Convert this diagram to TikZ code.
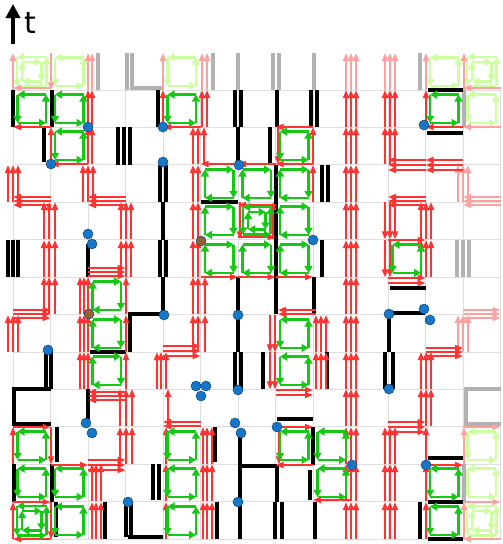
\documentclass[tikz,border=0pt]{standalone}
\usepackage{fontspec}
\setmainfont{DejaVu Sans}
\usetikzlibrary{arrows.meta}
\definecolor{cr}{RGB}{255,50,50}
\definecolor{crf}{RGB}{255,160,160}
\definecolor{cg}{RGB}{20,200,20}
\definecolor{cgf}{RGB}{205,255,160}
\definecolor{ck}{RGB}{0,0,0}
\definecolor{ckf}{RGB}{178,178,178}
\definecolor{cb}{RGB}{22,118,200}
\definecolor{cbo}{RGB}{15,70,120}
\definecolor{cbr}{RGB}{150,95,50}
\definecolor{cgl}{RGB}{222,222,222}
\tikzset{
 ra/.style={draw=cr,line width=1.8pt,-{Triangle[length=8pt,width=6pt]}},
 rf/.style={ra,draw=crf},
 ga/.style={draw=cg,line width=2.6pt,-{Triangle[length=7pt,width=8pt]}},
 gf/.style={ga,draw=cgf},
 bk/.style={draw=ck,line width=4.4pt},
 bk3/.style={draw=ck,line width=3.2pt},
 bkf/.style={draw=ckf,line width=4.4pt},
 bkf3/.style={draw=ckf,line width=3.2pt},
 bdot/.style={fill=cb,draw=cbo,line width=0.5pt},
 brdot/.style={fill=cbr,draw=cbo,line width=0.5pt},
 gl/.style={draw=cgl,line width=0.8pt},
}
\newcommand\RU[3][ra]{\foreach \xx in {#2}{\draw[#1] (\xx,{#3+37.4}) -- (\xx,#3);}}
\newcommand\RD[3][ra]{\foreach \xx in {#2}{\draw[#1] (\xx,#3) -- (\xx,{#3+37.4});}}
\newcommand\RL[3][ra]{\foreach \yy in {#2}{\draw[#1] ({#3+37.5},\yy) -- (#3,\yy);}}
\newcommand\RR[3][ra]{\foreach \yy in {#2}{\draw[#1] (#3,\yy) -- ({#3+37.5},\yy);}}
\newcommand\Gccw[4][ga]{%
 \draw[#1] ({#2+37.5-#4},{#3+#4}) -- ({#2+#4},{#3+#4});
 \draw[#1] ({#2+#4},{#3+#4}) -- ({#2+#4},{#3+37.4-#4});
 \draw[#1] ({#2+#4},{#3+37.4-#4}) -- ({#2+37.5-#4},{#3+37.4-#4});
 \draw[#1] ({#2+37.5-#4},{#3+37.4-#4}) -- ({#2+37.5-#4},{#3+#4});}
\newcommand\Gcw[4][ga]{%
 \draw[#1] ({#2+#4},{#3+#4}) -- ({#2+37.5-#4},{#3+#4});
 \draw[#1] ({#2+37.5-#4},{#3+#4}) -- ({#2+37.5-#4},{#3+37.4-#4});
 \draw[#1] ({#2+37.5-#4},{#3+37.4-#4}) -- ({#2+#4},{#3+37.4-#4});
 \draw[#1] ({#2+#4},{#3+37.4-#4}) -- ({#2+#4},{#3+#4});}
\newcommand\BV[4][bk]{\foreach \xx in {#2}{\draw[#1] (\xx,#3) -- (\xx,#4);}}
\newcommand\BH[4][bk]{\draw[#1] (#2,#4) -- (#3,#4);}
\def\gi{4.5}
\begin{document}
\begin{tikzpicture}[x=1pt,y=-1pt]
\useasboundingbox (0,0) rectangle (503,544);
\begin{scope}
\clip (0,0) rectangle (503,544);
% grid
\foreach \i in {0,...,13} \draw[gl] ({13+37.5*\i},90) -- ({13+37.5*\i},539);
\foreach \j in {0,...,12} \draw[gl] (13,{90+37.42*\j}) -- (501,{90+37.42*\j});
% time arrow
\draw[line width=4.5pt,-{Triangle[length=14pt,width=14pt]}] (13,44) -- (13,4);
\node[anchor=base west,inner sep=0,font=\fontsize{30}{30}\selectfont] (tlab) at (24,33) {t};

% ---------- faded copies (top row, right column)
\Gccw[gf]{13}{53}{4} \Gcw[gf]{13}{53}{9}
\Gccw[gf]{50.5}{53}{\gi} \Gccw[gf]{163}{53}{\gi} \Gccw[gf]{425.5}{53}{\gi}
\Gccw[gf]{463}{53}{4} \Gcw[gf]{463}{53}{9}
\Gccw[gf]{463}{90}{\gi} \Gccw[gf]{463}{427}{\gi} \Gccw[gf]{463}{464}{\gi}
\Gccw[gf]{463}{502}{4} \Gcw[gf]{463}{502}{9}
\RU[rf]{13}{53} \RD[rf]{51}{53} \RL[rf]{88}{13}
\RU[rf]{88,92}{53} \BV[bkf]{98}{53}{90}
\BV[bkf3]{127,132}{53}{90} \BH[bkf]{132}{163}{88}
\RU[rf]{163}{53} \RU[rf]{202,207}{53}
\BV[bkf]{213}{53}{90} \BV[bkf]{238}{53}{90} \BV[bkf3]{273,279}{53}{90} \BV[bkf]{314}{53}{90}
\RU[rf]{346,351,356}{53} \RU[rf]{385,390,395}{53}
\BV[bkf]{420}{53}{90} \RU[rf]{426}{53} \RU[rf]{464}{53} \RL[rf]{88}{463}
\BV[bkf]{464}{90}{127} \RL[rf]{127}{463}
\RU[rf]{458,463,468}{165} \RL[rf]{197,201,205}{463}
\BV[bkf3]{457,463,469}{240}{277}
\RR[rf]{310,314,318}{463} \RU[rf]{458,463,468}{315}
\draw[bkf] (501,389) -- (466,389) -- (466,424) -- (501,424);
\RR[rf]{427}{463} \RU[rf]{464}{427}
\BV[bkf]{464}{464}{502} \RR[rf]{502}{463}
\RL[rf]{539}{463} \RU[rf]{464}{502}

% ---------- black bars
\BV{13}{90}{127} \BV{52}{90}{127} \BV{44}{127}{162}
\BV[bk3]{8,13,18}{240}{277}
\BV[bk3]{46,51}{350}{389}
\draw[bk] (51,389) -- (14,389) -- (14,424) -- (51,424);
\BV{14}{464}{502} \BV{52}{464}{502} \BV{57}{427}{462} \BV{56}{502}{537}
\BV{88}{244}{277} \BV{88}{389}{423}
\BV[bk3]{118,124,130}{127}{165}
\BH{90}{126}{352}
\BV{105}{502}{539}
\BV{158}{90}{127}
\BV[bk3]{160,166}{165}{202} \BV{163}{202}{240} \BV[bk3]{160,166}{240}{277} \BV{163}{277}{314}
\draw[bk] (163,314) -- (130,314) -- (130,352);
\BV[bk3]{153,159}{464}{500}
\BV[bk3]{126,131}{502}{537} \BH{128}{163}{537}
\BV{215}{427}{462} \BV{217}{502}{539}
\BV[bk3]{235,241}{90}{127} \BV{238}{127}{165} \BH{201}{238}{202}
\BV{238}{277}{352} \BV[bk3]{235,241}{352}{389}
\BV{240}{437}{539} \BH{240}{277}{466}
\BV{277}{90}{127} \BV{270}{127}{165}
\BV{276}{165}{314}
\BV{263}{352}{389} \BH{277}{313}{419}
\BV{277}{466}{502} \BV[bk3]{275,282}{502}{539}
\BV[bk3]{311,317}{90}{127} \BV{314}{277}{314}
\BV{313}{427}{465} \BV{310}{470}{500} \BV{315}{502}{539}
\BV[bk3]{322,328}{165}{202} \BV{322}{240}{277} \BV{327}{352}{389}
\BH{390}{426}{288}
\draw[bk] (425,313) -- (389,313) -- (389,352);
\BV[bk3]{385,393}{352}{389}
\BH{428}{463}{90} \BH{427}{463}{133} \BH{428}{463}{458} \BH{428}{463}{502} \BH{428}{463}{539}
\BV{420}{502}{539}

% ---------- red worldlines
\foreach \r in {90,127,165,202,240,277,315,352,389,427,464,502} {\RU{346,351,356}{\r}}
\foreach \r in {90,127,427,464,502} {\RU{385,390,395}{\r}}
\foreach \r in {202,240,352,389} {\RU{421,426,431}{\r}}
\foreach \r in {90,427,464,502} {\RU{426}{\r}}
\RU{8,13,18}{165} \RU{8,13,18}{315}
\RU{13}{427} \RU{13}{502}
\RU{44,49,55}{202} \RU{44,49,55}{240} \RU{44,49,55}{277}
\RU{51}{127} \RD{51}{427} \RD{51}{502}
\RU{88,92}{90} \RU{88,92}{127} \RU{83,88,93}{165}
\foreach \r in {277,315,352} {\RU{80,84,88}{\r}}
\RU{92,96,101}{464} \RU{92,96,101}{502}
\RU{121,126,131}{202} \RU{121,126,131}{240} \RU{120,126,132}{389} \RU{120,126,132}{427}
\foreach \r in {277,315,352} {\RU{126}{\r}}
\RU{163}{90} \RU{157,161,166}{352} \RU{168}{389}
\foreach \r in {427,464,502} {\RU{166}{\r}}
\RU{202,207}{90} \RU{193,198,204}{127}
\foreach \r in {165,202,240} {\RU{193,198}{\r}}
\RU{193,198,205}{277} \RU{193,198,205}{315}
\foreach \r in {427,464,502} {\RU{203,207,212}{\r}}
\RD{278}{127} \RU{313}{127} \RU{313}{165}
\RD{240}{202} \RU{273}{202}
\RD{270,275}{315} \RD{270,275}{352}
\RU{316,321,326}{315} \RU{316,321,326}{352}
\RD{279}{427}
\RD{385,390,395}{202} \RD{385,390}{240}
% horizontals
\RL{127}{13} \RL{127}{163} \RL{127}{275.5} \RL{127}{425.5}
\RL{164}{50.5} \RL{164}{200.5} \RL{164}{238} \RL{164}{275.5}
\RL{160,165,170}{388} \RL{160,165,170}{425.5}
\RL{197,201,205}{13} \RL{197,201,205}{88} \RL{197,201,205}{388}
\RL{205}{238} \RR{237}{238} \RR{240}{388}
\RR{268,272,276}{88}
\RR{277}{200.5} \RR{277}{238} \RR{277}{275.5}
\RR{278,283}{388}
\RR{310,314,318}{13}
\RL{310,314}{278}
\RR{346,351,356}{163}
\RR{348,352,356}{425.5}
\RR{390,395}{275.5}
\RL{392,396,400}{88}
\RL{422,426}{163}
\RR{422,427,432}{388}
\RR{427}{13} \RR{427}{275.5}
\RR{465}{50.5} \RR{460,465,470}{88}
\RL{465}{275.5} \RR{465}{425.5}
\RL{500}{313}
\RR{502}{13} \RL{539}{13}

% ---------- green plaquettes
\Gccw{13}{90}{\gi} \Gccw{50.5}{90}{\gi} \Gccw{50.5}{127}{\gi} \Gccw{163}{90}{\gi}
\Gccw{275.5}{127}{\gi} \Gccw{425.5}{90}{\gi}
\foreach \cx in {200.5,275.5} \foreach \cy in {165,202,240} {\Gcw{\cx}{\cy}{\gi}}
\Gcw{238}{165}{\gi} \Gcw{238}{240}{\gi}
\Gccw{238}{202}{5} \Gcw{238}{202}{10}
\Gccw{388}{240}{\gi}
\Gcw{88}{277}{\gi} \Gcw{88}{315}{\gi} \Gcw{88}{352}{\gi}
\Gccw{275.5}{315}{\gi} \Gccw{275.5}{352}{\gi}
\Gccw{13}{427}{\gi} \Gccw{13}{464}{\gi} \Gccw{13}{502}{4} \Gcw{13}{502}{9}
\Gccw{50.5}{464}{\gi} \Gccw{50.5}{502}{\gi}
\Gccw{163}{427}{\gi} \Gccw{163}{464}{\gi} \Gccw{163}{502}{\gi}
\Gccw{275.5}{427}{\gi} \Gccw{313}{427}{\gi} \Gccw{313}{464}{\gi}
\Gccw{425.5}{464}{\gi} \Gccw{425.5}{502}{\gi}

% ---------- vertices
\foreach \p in {(88,127),(163,127),(51,164),(163,162),(239,165),(424,125),
 (88,234),(92,244),(313,240),(164,315),(238,315),(389,314),(424,309),(430,320),
 (48,350),(196,386),(206,386),(201,396),(238,390),(389,389),(86,423),(92,433),
 (235,423),(241,433),(277,427),(352,465),(426,465),(128,502),(238,502)}
 {\fill[bdot] \p circle (5);}
\fill[brdot] (201,241) circle (5);
\fill[brdot] (89,314) circle (5);
\end{scope}
\end{tikzpicture}
\end{document}
